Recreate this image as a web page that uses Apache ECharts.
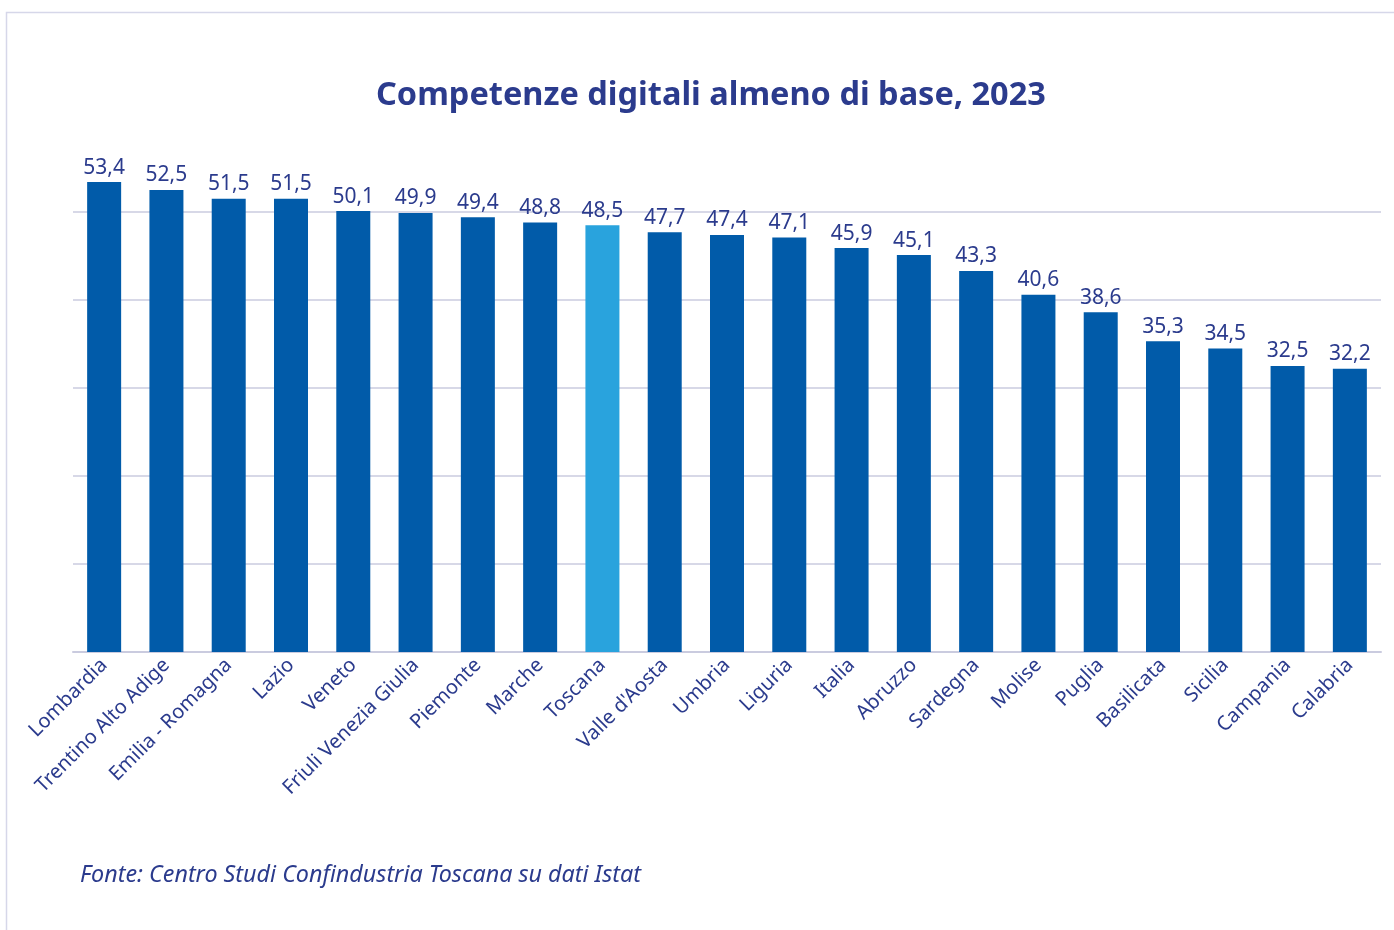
<!DOCTYPE html>
<html>
<head>
<meta charset="utf-8">
<style>
  html, body { margin: 0; padding: 0; background: #ffffff; }
  #chart { width: 1394px; height: 930px; }
</style>
<script src="https://cdn.jsdelivr.net/npm/echarts@6/dist/echarts.min.js"></script>
</head>
<body>
<div id="chart"></div>
<script>
// Regions ordered by share of people with at least basic digital skills
const regions = [
  'Lombardia', 'Trentino Alto Adige', 'Emilia - Romagna', 'Lazio', 'Veneto',
  'Friuli Venezia Giulia', 'Piemonte', 'Marche', 'Toscana', "Valle d'Aosta",
  'Umbria', 'Liguria', 'Italia', 'Abruzzo', 'Sardegna', 'Molise', 'Puglia',
  'Basilicata', 'Sicilia', 'Campania', 'Calabria'
];
const values = [
  53.4, 52.5, 51.5, 51.5, 50.1, 49.9, 49.4, 48.8, 48.5, 47.7,
  47.4, 47.1, 45.9, 45.1, 43.3, 40.6, 38.6, 35.3, 34.5, 32.5, 32.2
];
const highlighted = 'Toscana';

const titleText = 'Competenze digitali almeno di base, 2023';
const sourceText = 'Fonte: Centro Studi Confindustria Toscana su dati Istat';

const NAVY = '#2B3B8D';
const BAR = '#015BA9';
const BAR_HI = '#29A3DD';
const GRID = '#CACBDF';
const FONT = '"Noto Sans", "DejaVu Sans", sans-serif';

const barData = regions.map((r, i) => ({
  value: values[i],
  itemStyle: { color: r === highlighted ? BAR_HI : BAR }
}));

const chart = echarts.init(document.getElementById('chart'), null, { renderer: 'canvas' });

chart.setOption({
  animation: false,
  backgroundColor: '#ffffff',
  textStyle: { fontFamily: FONT },
  title: {
    text: titleText,
    left: 371,
    top: 74,
    textStyle: { color: NAVY, fontSize: 32.5, fontWeight: 'bold', fontFamily: FONT }
  },
  graphic: [
    {
      type: 'rect',
      shape: { x: 6.5, y: 12.5, width: 1500, height: 1000 },
      style: { fill: 'none', stroke: '#D6D7E9', lineWidth: 1.5 },
      silent: true
    },
    {
      type: 'text',
      left: 80,
      top: 864,
      style: {
        text: sourceText,
        fill: NAVY,
        font: 'italic 23.3px ' + FONT
      }
    }
  ],
  grid: { left: 73, right: 13, top: 124, bottom: 278, containLabel: false },
  xAxis: {
    type: 'category',
    data: regions,
    axisTick: { show: false },
    axisLine: { show: true, lineStyle: { color: GRID, width: 2 } },
    axisLabel: {
      rotate: 45,
      margin: 10,
      interval: 0,
      color: NAVY,
      fontSize: 20,
      fontFamily: FONT
    }
  },
  yAxis: {
    type: 'value',
    min: 0,
    max: 60,
    interval: 10,
    axisLabel: { show: false },
    axisLine: { show: false },
    axisTick: { show: false },
    splitLine: {
      show: true,
      showMaxLine: false,
      lineStyle: { color: GRID, width: 1.5 }
    }
  },
  series: [{
    type: 'bar',
    data: barData,
    barWidth: 34,
    label: {
      show: true,
      position: 'top',
      distance: 4,
      color: NAVY,
      fontSize: 21,
      fontFamily: FONT,
      formatter: p => String(p.value).replace('.', ',')
    }
  }]
});
</script>
</body>
</html>
